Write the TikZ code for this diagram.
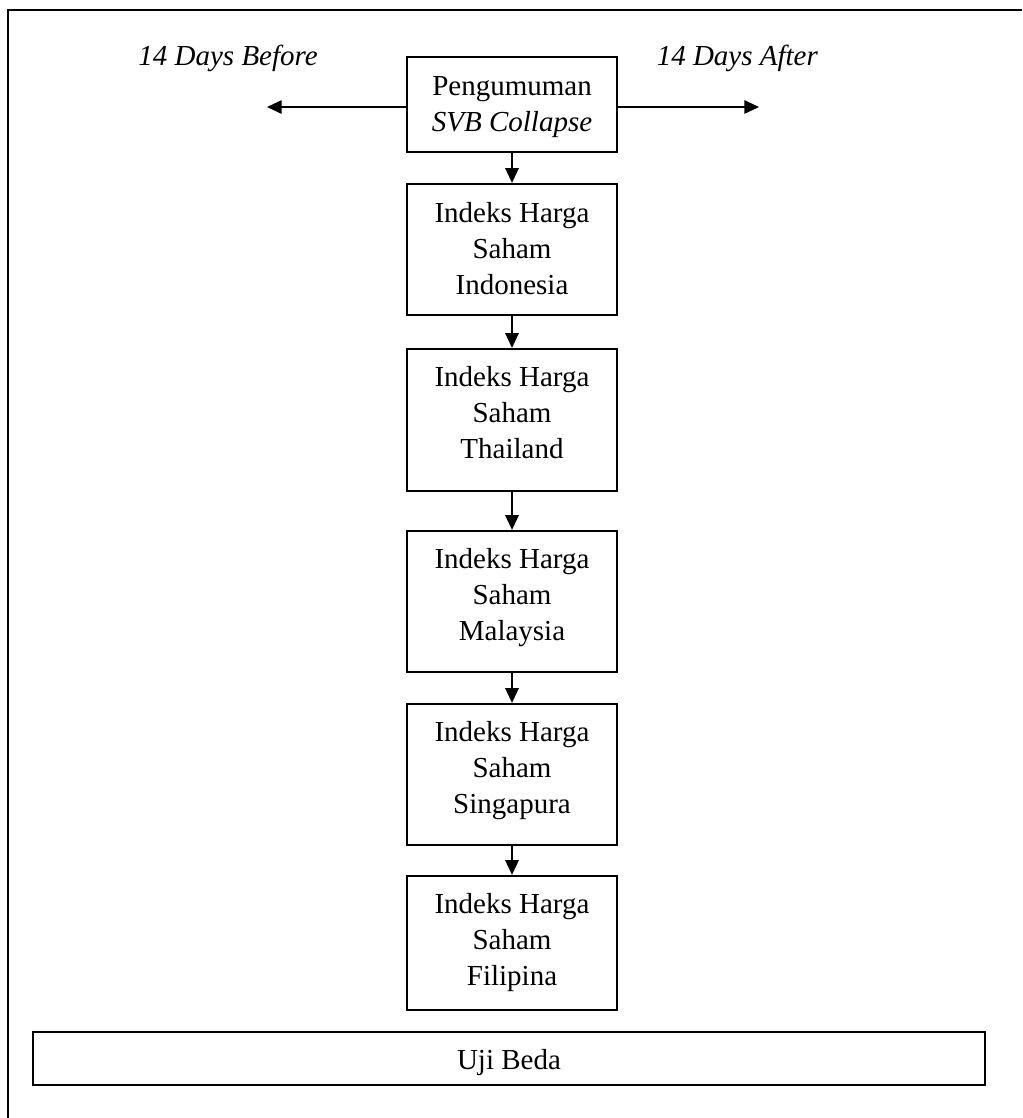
\documentclass[tikz,border=0pt]{standalone}
\usepackage{fontspec}
\setmainfont{Liberation Serif}
\usetikzlibrary{arrows.meta}
\begin{document}
\begin{tikzpicture}[x=0.75pt,y=-0.75pt,
  box/.style={draw=black,line width=1.7pt,minimum width=210*0.75pt,inner sep=0pt,fill=none},
  label/.style={font=\fontsize{21.75pt}{27pt}\selectfont,inner sep=0pt,align=center},
  arr/.style={line width=1.4pt,-{Triangle[length=11pt,width=10pt]}},
  frame/.style={line width=1.8pt}]
\useasboundingbox (0,0) rectangle (1022,1118);
\fill[white] (0,0) rectangle (1022,1118);
% outer frame (top and left edges visible)
\coordinate (FTR) at (1022,10);
\coordinate (FTL) at (8,10);
\coordinate (FBL) at (8,1118);
\draw[frame] (FTR) -- (FTL) -- (FBL);
% boxes
\node[box,minimum height=95*0.75pt]  (top) at (512,104.5) {};
\node[box,minimum height=131*0.75pt] (b1)  at (512,249.5) {};
\node[box,minimum height=142*0.75pt] (b2)  at (512,420) {};
\node[box,minimum height=141*0.75pt] (b3)  at (512,601.5) {};
\node[box,minimum height=141*0.75pt] (b4)  at (512,774.5) {};
\node[box,minimum height=134*0.75pt] (b5)  at (512,943) {};
\node[box,minimum width=952*0.75pt,minimum height=53*0.75pt] (uji) at (509,1058.5) {};
% texts
\node[label,anchor=north] (ttop) at (512,76.5) {Pengumuman\\\textit{SVB Collapse}};
\node[label,anchor=north] (t1) at (512,202.5) {Indeks Harga\\Saham\\Indonesia};
\node[label,anchor=north] (t2) at (512,366) {Indeks Harga\\Saham\\Thailand};
\node[label,anchor=north] (t3) at (512,548.5) {Indeks Harga\\Saham\\Malaysia};
\node[label,anchor=north] (t4) at (512,721.5) {Indeks Harga\\Saham\\Singapura};
\node[label,anchor=north] (t5) at (512,893.5) {Indeks Harga\\Saham\\Filipina};
\node[label,anchor=base] (tuji) at (509,1069) {Uji Beda};
\node[label,anchor=base east] (before) at (318,65.5) {\textit{14 Days Before}};
\node[label,anchor=base west] (after) at (656.5,65.5) {\textit{14 Days After}};
% arrows
\coordinate (L) at (267,107);
\coordinate (R) at (759,107);
\draw[arr] (top.west |- L) -- (L);
\draw[arr] (top.east |- R) -- (R);
\draw[arr] (top.south) -- (b1.north);
\draw[arr] (b1.south) -- (b2.north);
\draw[arr] (b2.south) -- (b3.north);
\draw[arr] (b3.south) -- (b4.north);
\draw[arr] (b4.south) -- (b5.north);
\end{tikzpicture}
\end{document}
